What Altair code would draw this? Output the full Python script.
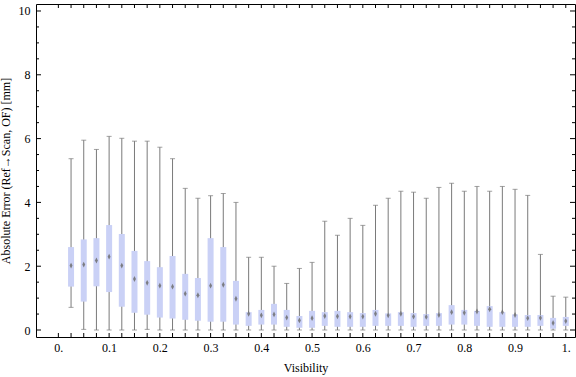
import altair as alt
import pandas as pd

visibility = [0.025, 0.05, 0.075, 0.1, 0.125, 0.15, 0.175, 0.2, 0.225, 0.25,
              0.275, 0.3, 0.325, 0.35, 0.375, 0.4, 0.425, 0.45, 0.475, 0.5,
              0.525, 0.55, 0.575, 0.6, 0.625, 0.65, 0.675, 0.7, 0.725, 0.75,
              0.775, 0.8, 0.825, 0.85, 0.875, 0.9, 0.925, 0.95, 0.975, 1.0]
whisker_low = [0.71, 0.02, 0, 0, 0, 0, 0.02, 0, 0, 0,
               0, 0, 0, 0, 0, 0, 0, 0, 0, 0,
               0, 0, 0, 0, 0, 0, 0, 0, 0, 0,
               0, 0, 0, 0, 0, 0, 0, 0, 0, 0]
q1 = [1.36, 0.89, 1.37, 1.19, 0.73, 0.54, 0.48, 0.39, 0.36, 0.32,
      0.29, 0.26, 0.26, 0.17, 0.13, 0.17, 0.17, 0.10, 0.07, 0.07,
      0.13, 0.10, 0.10, 0.10, 0.13, 0.13, 0.13, 0.10, 0.13, 0.13,
      0.17, 0.17, 0.13, 0.10, 0.10, 0.10, 0.10, 0.13, 0.04, 0.13]
median = [2.02, 2.05, 2.18, 2.30, 2.02, 1.60, 1.48, 1.39, 1.36, 1.14,
          1.09, 1.39, 1.42, 0.98, 0.51, 0.46, 0.49, 0.39, 0.30, 0.37,
          0.44, 0.43, 0.42, 0.42, 0.51, 0.46, 0.51, 0.42, 0.41, 0.47,
          0.56, 0.54, 0.58, 0.65, 0.56, 0.47, 0.37, 0.38, 0.22, 0.28]
q3 = [2.60, 2.84, 2.88, 3.29, 3.01, 2.48, 2.16, 1.97, 2.32, 1.76,
      1.63, 2.88, 2.60, 1.54, 0.56, 0.63, 0.82, 0.63, 0.44, 0.60,
      0.56, 0.60, 0.56, 0.53, 0.63, 0.52, 0.56, 0.53, 0.50, 0.53,
      0.78, 0.63, 0.60, 0.75, 0.56, 0.49, 0.47, 0.47, 0.38, 0.41]
whisker_high = [5.37, 5.95, 5.66, 6.07, 6.01, 5.92, 5.92, 5.73, 5.37, 4.44,
                4.13, 4.21, 4.28, 4.00, 2.28, 2.28, 2.00, 1.46, 1.93, 2.12,
                3.41, 2.97, 3.50, 3.28, 3.91, 4.13, 4.35, 4.32, 4.13, 4.47,
                4.60, 4.35, 4.50, 4.35, 4.50, 4.41, 4.22, 2.37, 1.06, 1.03]

x_label_values = [0, 0.1, 0.2, 0.3, 0.4, 0.5, 0.6, 0.7, 0.8, 0.9, 1.0]
y_label_values = [0, 2, 4, 6, 8, 10]
x_tick_values = [round(k * 0.025, 3) for k in range(41)]
y_major_ticks = [0, 2, 4, 6, 8, 10]
y_minor_ticks = [v / 2 for v in range(21) if v % 4 != 0]

df = pd.DataFrame({
    "vis": visibility, "lo": whisker_low, "q1": q1,
    "med": median, "q3": q3, "hi": whisker_high,
})

W, H = 539, 333
FONT = "Liberation Serif"
xscale = alt.Scale(domain=[-0.03424, 1.00832], nice=False, zero=False)
yscale = alt.Scale(domain=[-0.219, 10.219], nice=False, zero=False)

GRAY = "#7a7a7a"
BOX = "#cad1f6"

x_axis = alt.Axis(
    orient="bottom",
    values=x_label_values,
    labelExpr="datum.value == 0 ? '0.' : (datum.value == 1 ? '1.' : format(datum.value, '.1f'))",
    ticks=False, domain=False, grid=False,
    labelFont=FONT, labelFontSize=12, labelColor="black", labelPadding=5,
    title="Visibility", titleFont=FONT, titleFontSize=12, titleFontWeight="normal",
    titleColor="black", titlePadding=9,
)
y_axis = alt.Axis(
    orient="left",
    values=y_label_values,
    ticks=False, domain=False, grid=False,
    labelFont=FONT, labelFontSize=12, labelColor="black", labelPadding=6,
    title="Absolute Error (Ref\u2192Scan, OF) [mm]", titleFont=FONT, titleFontSize=12,
    titleFontWeight="normal", titleColor="black", titlePadding=6,
)

base = alt.Chart(df)

whiskers = base.mark_rule(color=GRAY, strokeWidth=1).encode(
    x=alt.X("vis:Q", scale=xscale, axis=x_axis),
    y=alt.Y("lo:Q", scale=yscale, axis=y_axis),
    y2="hi:Q",
)
cap_hi = base.mark_tick(orient="horizontal", size=5, thickness=1, color=GRAY).encode(
    x=alt.X("vis:Q", scale=xscale, axis=None),
    y=alt.Y("hi:Q", scale=yscale, axis=None),
)
cap_lo = base.mark_tick(orient="horizontal", size=5, thickness=1, color=GRAY).encode(
    x=alt.X("vis:Q", scale=xscale, axis=None),
    y=alt.Y("lo:Q", scale=yscale, axis=None),
)
boxes = base.mark_bar(size=6, color=BOX).encode(
    x=alt.X("vis:Q", scale=xscale, axis=None),
    y=alt.Y("q1:Q", scale=yscale, axis=None),
    y2="q3:Q",
)
medians = base.mark_point(
    shape="M0,-1L0.5,0L0,1L-0.5,0Z", size=34, filled=True, color="#6e6e6e", opacity=0.85
).encode(
    x=alt.X("vis:Q", scale=xscale, axis=None),
    y=alt.Y("med:Q", scale=yscale, axis=None),
)

xt = alt.Chart(pd.DataFrame({"t": x_tick_values}))
bottom_ticks = xt.mark_rule(color="black").encode(
    x=alt.X("t:Q", scale=xscale, axis=None), y=alt.value(H), y2=alt.value(H - 4))
top_ticks = xt.mark_rule(color="black").encode(
    x=alt.X("t:Q", scale=xscale, axis=None), y=alt.value(0), y2=alt.value(4))

ymaj = alt.Chart(pd.DataFrame({"t": y_major_ticks}))
ymin = alt.Chart(pd.DataFrame({"t": y_minor_ticks}))
left_major = ymaj.mark_rule(color="black").encode(
    y=alt.Y("t:Q", scale=yscale, axis=None), x=alt.value(0), x2=alt.value(5))
right_major = ymaj.mark_rule(color="black").encode(
    y=alt.Y("t:Q", scale=yscale, axis=None), x=alt.value(W), x2=alt.value(W - 5))
left_minor = ymin.mark_rule(color="black").encode(
    y=alt.Y("t:Q", scale=yscale, axis=None), x=alt.value(0), x2=alt.value(3))
right_minor = ymin.mark_rule(color="black").encode(
    y=alt.Y("t:Q", scale=yscale, axis=None), x=alt.value(W), x2=alt.value(W - 3))

chart = alt.layer(
    whiskers, cap_hi, cap_lo, boxes, medians,
    bottom_ticks, top_ticks, left_major, right_major, left_minor, right_minor,
).resolve_axis(
    x="independent", y="independent"
).properties(
    width=W, height=H,
    autosize=alt.AutoSizeParams(type="none"),
    padding={"left": 36, "top": 4, "right": 1, "bottom": 40},
    background="white",
).configure_view(stroke="black", strokeWidth=1)

chart.save("out.html", embed_options={"renderer": "svg", "actions": False})
